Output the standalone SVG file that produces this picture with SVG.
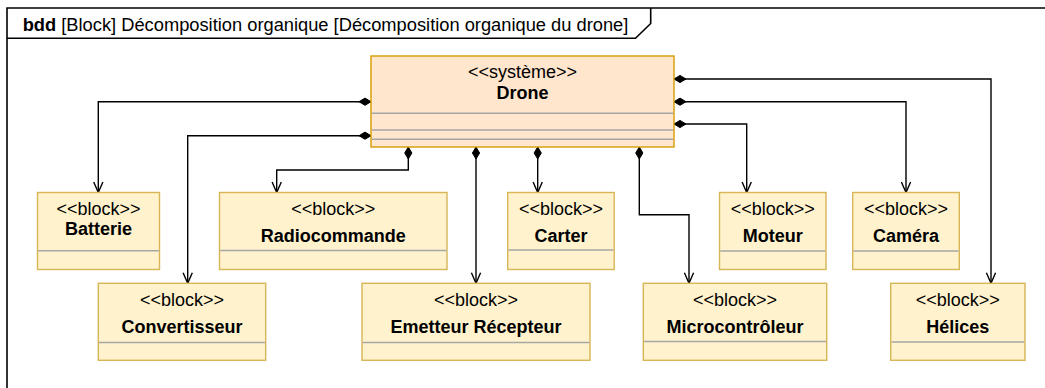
<svg xmlns="http://www.w3.org/2000/svg" width="1045" height="388" viewBox="0 0 1045 388">
  <style>
    text { font-family: "Liberation Sans", Arial, Helvetica, sans-serif; font-size: 18px; fill: #000; }
    .title { font-size: 18.3px; }
    .c { text-anchor: middle; }
    .b { font-weight: bold; }
    .frame { fill: none; stroke: #000; stroke-width: 1.6; }
    .sys { fill: #ffe6cc; stroke: #d79b00; stroke-width: 1.4; }
    .blk { fill: #fff2cc; stroke: #d6b656; stroke-width: 1.4; }
    .sep { stroke: #a6a6a6; stroke-width: 1.4; }
    .edge { fill: none; stroke: #000; stroke-width: 1.4; marker-start: url(#comp); marker-end: url(#open); }
  </style>
  <defs>
    <!-- composition diamond at the owning end -->
    <marker id="comp" markerUnits="userSpaceOnUse" markerWidth="14" markerHeight="10" refX="0" refY="0" orient="auto" overflow="visible">
      <path d="M0,0 L6,-3.6 L12,0 L6,3.6 Z" fill="#000" stroke="#000" stroke-width="1"/>
    </marker>
    <!-- open arrowhead at the part end -->
    <marker id="open" markerUnits="userSpaceOnUse" markerWidth="14" markerHeight="12" refX="0" refY="0" orient="auto" overflow="visible">
      <path d="M-10.5,-4.6 L0,0 L-10.5,4.6" fill="none" stroke="#000" stroke-width="1.4"/>
    </marker>
  </defs>

  <!-- diagram frame and name tab -->
  <g id="frame">
    <path class="frame" d="M7,400 L7,8 L1052,8"/>
    <path class="frame" d="M7,38.3 L635.5,38.3 L650.7,23.5 L650.7,8"/>
    <text class="title" x="22.7" y="30.7"><tspan class="b">bdd</tspan> [Block] Décomposition organique [Décomposition organique du drone]</text>
  </g>

  <!-- connectors -->
  <g id="connectors">
    <path class="edge" d="M371,101.7 L98.3,101.7 L98.3,192.5"/>
    <path class="edge" d="M371,135.7 L187.7,135.7 L187.7,283.3"/>
    <path class="edge" d="M408.3,147 L408.3,170 L276.7,170 L276.7,192.5"/>
    <path class="edge" d="M476,147 L476,283.3"/>
    <path class="edge" d="M537.7,147 L537.7,192.5"/>
    <path class="edge" d="M639.3,147 L639.3,214.7 L689,214.7 L689,283.3"/>
    <path class="edge" d="M674,124 L746.7,124 L746.7,192.5"/>
    <path class="edge" d="M674,101.7 L906,101.7 L906,192.5"/>
    <path class="edge" d="M674,79 L991,79 L991,283.3"/>
  </g>

  <!-- system block -->
  <g id="drone">
    <rect class="sys" x="371" y="56" width="303" height="91"/>
    <line class="sep" x1="371.7" y1="113.3" x2="673.3" y2="113.3"/>
    <line class="sep" x1="371.7" y1="130" x2="673.3" y2="130"/>
    <line class="sep" x1="371.7" y1="139.3" x2="673.3" y2="139.3"/>
    <text class="c" x="522.5" y="77.7">&lt;&lt;système&gt;&gt;</text>
    <text class="c b" x="522.5" y="99.3">Drone</text>
  </g>

  <!-- part blocks, upper row -->
  <g id="batterie">
    <rect class="blk" x="37.5" y="192.5" width="122" height="77"/>
    <line class="sep" x1="38.2" y1="250.7" x2="158.8" y2="250.7"/>
    <text class="c" x="98.5" y="215">&lt;&lt;block&gt;&gt;</text>
    <text class="c b" x="98.5" y="235">Batterie</text>
  </g>
  <g id="radiocommande">
    <rect class="blk" x="219.5" y="192.5" width="227.5" height="77"/>
    <line class="sep" x1="220.2" y1="250.5" x2="446.3" y2="250.5"/>
    <text class="c" x="333.2" y="215">&lt;&lt;block&gt;&gt;</text>
    <text class="c b" x="333.2" y="242">Radiocommande</text>
  </g>
  <g id="carter">
    <rect class="blk" x="507.7" y="192.5" width="106.5" height="77"/>
    <line class="sep" x1="508.4" y1="250" x2="613.5" y2="250"/>
    <text class="c" x="561" y="215">&lt;&lt;block&gt;&gt;</text>
    <text class="c b" x="561" y="242">Carter</text>
  </g>
  <g id="moteur">
    <rect class="blk" x="719.5" y="192.5" width="106.5" height="77"/>
    <line class="sep" x1="720.2" y1="251" x2="825.3" y2="251"/>
    <text class="c" x="772.7" y="215">&lt;&lt;block&gt;&gt;</text>
    <text class="c b" x="772.7" y="242">Moteur</text>
  </g>
  <g id="camera">
    <rect class="blk" x="852.7" y="192.5" width="106.6" height="77"/>
    <line class="sep" x1="853.4" y1="251" x2="958.6" y2="251"/>
    <text class="c" x="906" y="215">&lt;&lt;block&gt;&gt;</text>
    <text class="c b" x="906" y="242">Caméra</text>
  </g>

  <!-- part blocks, lower row -->
  <g id="convertisseur">
    <rect class="blk" x="98.3" y="283.3" width="167.4" height="77"/>
    <line class="sep" x1="99" y1="342.5" x2="265" y2="342.5"/>
    <text class="c" x="182" y="306">&lt;&lt;block&gt;&gt;</text>
    <text class="c b" x="182" y="333">Convertisseur</text>
  </g>
  <g id="emetteur-recepteur">
    <rect class="blk" x="362" y="283.3" width="228" height="77"/>
    <line class="sep" x1="362.7" y1="342.5" x2="589.3" y2="342.5"/>
    <text class="c" x="476" y="306">&lt;&lt;block&gt;&gt;</text>
    <text class="c b" x="476" y="333">Emetteur Récepteur</text>
  </g>
  <g id="microcontroleur">
    <rect class="blk" x="643.3" y="283.3" width="183.4" height="77"/>
    <line class="sep" x1="644" y1="341.5" x2="826" y2="341.5"/>
    <text class="c" x="735" y="306">&lt;&lt;block&gt;&gt;</text>
    <text class="c b" x="735" y="333">Microcontrôleur</text>
  </g>
  <g id="helices">
    <rect class="blk" x="890.7" y="283.3" width="134.3" height="77"/>
    <line class="sep" x1="891.4" y1="342" x2="1024.3" y2="342"/>
    <text class="c" x="957.8" y="306">&lt;&lt;block&gt;&gt;</text>
    <text class="c b" x="957.8" y="333">Hélices</text>
  </g>
</svg>
